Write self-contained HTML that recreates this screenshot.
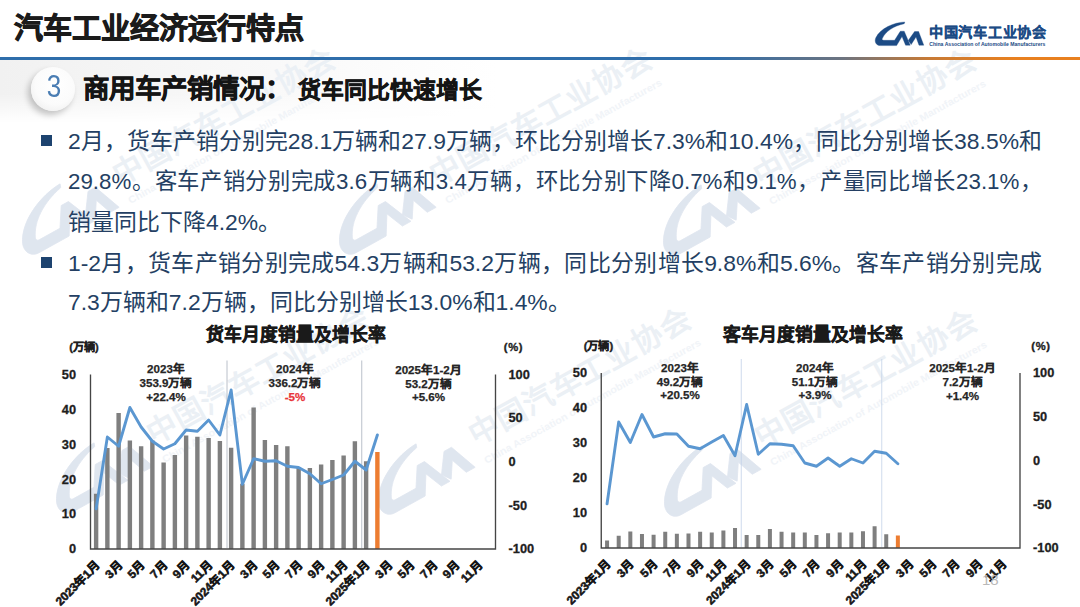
<!DOCTYPE html>
<html lang="zh-CN">
<head>
<meta charset="utf-8">
<title>汽车工业经济运行特点</title>
<style>
html,body{margin:0;padding:0;}
body{width:1080px;height:607px;overflow:hidden;background:#fff;font-family:"Liberation Sans", sans-serif;position:relative;}
.abs{position:absolute;white-space:nowrap;}
#title{left:14px;top:9.5px;font-size:29.05px;font-weight:bold;color:#1b1b1b;line-height:38px;-webkit-text-stroke:0.9px #1b1b1b;}
#hline{left:0;top:56.5px;width:1080px;height:3px;background:linear-gradient(90deg,#2f6eab 0%,#2f6eab 66%,#6d7480 78%,#c77a35 86%,#e8801f 94%,#e8801f 100%);}
#band{left:0;top:59px;width:1080px;height:64px;background:linear-gradient(90deg,#f1f1f1 0%,#f8f8f8 22%,#ffffff 46%);-webkit-mask-image:linear-gradient(180deg,#000 0%,#000 55%,transparent 100%);mask-image:linear-gradient(180deg,#000 0%,#000 55%,transparent 100%);}
#circ{left:31px;top:67px;width:44px;height:44px;border-radius:50%;background:radial-gradient(circle at 55% 40%,#ffffff 0%,#fbfbfb 55%,#e9e9e9 100%);box-shadow:-3px 4px 6px rgba(0,0,0,.22);}
#num3{left:32px;top:64.5px;width:44px;height:44px;line-height:44px;text-align:center;font-size:31px;color:#4a7db3;transform:scaleX(0.84);}
#sec{left:83px;top:70px;line-height:38px;font-weight:bold;color:#151515;font-size:26.5px;-webkit-text-stroke:0.6px #151515;}
#sec span{font-size:22.9px;margin-left:7px;}
.bl{left:68px;font-size:22.9px;color:#243f63;text-spacing-trim:space-all;line-height:40px;height:40px;}
.j{width:974px;text-align:justify;text-align-last:justify;}
.sq{width:11px;height:11px;background:#1d436f;left:40.5px;}
#pg{left:982px;top:571px;font-size:15px;color:#b9b9b9;line-height:17px;}
#logotxt{left:929px;top:22px;font-size:14.6px;font-weight:bold;color:#1f4e8d;line-height:18px;}
#logosub{left:929px;top:41px;font-size:4.6px;font-weight:bold;color:#3a5f93;line-height:6px;letter-spacing:0.05px;}
svg text{font-family:"Liberation Sans", sans-serif;}
.num{font-size:12.8px;font-weight:bold;fill:#1e1e1e;stroke:#1e1e1e;stroke-width:0.3px;}
.unit{font-size:11.2px;font-weight:bold;fill:#1e1e1e;stroke:#1e1e1e;stroke-width:0.35px;}
.ctitle{font-size:17.8px;font-weight:bold;fill:#1a1a1a;stroke:#1a1a1a;stroke-width:0.55px;}
.ann{font-size:11.6px;font-weight:bold;fill:#262626;stroke:#262626;stroke-width:0.25px;}
.red{fill:#e8343a;stroke:#e8343a;}
.xl{font-size:11.8px;font-weight:bold;fill:#161616;stroke:#161616;stroke-width:0.55px;}
</style>
</head>
<body>
<div class="abs" id="band"></div>
<svg class="abs" id="wmsvg" style="left:0;top:0" width="1080" height="607" viewBox="0 0 1080 607">
<defs>
<g id="cam" stroke-width="0.35" stroke-linejoin="round">
<path d="M34.8 7C24 7.3 10 13.5 5.7 23C4.2 27 6.3 30.6 10.4 30.6L26.6 30.6L32 21.6L35.6 30.2L40.2 30.2L34.2 16.2L30.3 16.2L24.6 25.3L13.6 25.3C12.2 25.3 11.8 24.4 12.4 23.3C15.5 16.5 23.5 11 34.2 8.7Z"/>
<path d="M38.2 25.6L44.6 16.5L48.6 16.5L53.8 30.2L49 30.2L46 22L41.2 29.6Z"/>
</g>
<g id="brand">
<use href="#cam"/>
<text x="59" y="21.6" font-size="14.2" font-weight="bold" stroke-width="0.25" textLength="117" lengthAdjust="spacing">中国汽车工业协会</text>
<text x="59.3" y="31.4" font-size="4.7" font-weight="bold" stroke="none" textLength="116" lengthAdjust="spacingAndGlyphs">China Association of Automobile Manufacturers</text>
</g>
<g id="wmk">
<use href="#cam" fill="#dfe6ef" stroke="#dfe6ef"/>
<text x="59" y="21.6" font-size="14.2" font-weight="bold" fill="#ebf0f5" textLength="117" lengthAdjust="spacing">中国汽车工业协会</text>
<text x="59.3" y="31.4" font-size="4.7" font-weight="bold" fill="#f1f4f8" textLength="116" lengthAdjust="spacingAndGlyphs">China Association of Automobile Manufacturers</text>
</g>
</defs>
<use href="#wmk" transform="translate(39 252.5) rotate(-29) scale(2.12) translate(-10.4 -30.5)"/>
<use href="#wmk" transform="translate(356 252.5) rotate(-29) scale(2.12) translate(-10.4 -30.5)"/>
<use href="#wmk" transform="translate(680 253.5) rotate(-29) scale(2.12) translate(-10.4 -30.5)"/>
<use href="#wmk" transform="translate(73 511.5) rotate(-29) scale(2.12) translate(-10.4 -30.5)"/>
<use href="#wmk" transform="translate(395 512.5) rotate(-29) scale(2.12) translate(-10.4 -30.5)"/>
<use href="#wmk" transform="translate(681 514.5) rotate(-29) scale(2.12) translate(-10.4 -30.5)"/>
</svg>
<div class="abs" id="title">汽车工业经济运行特点</div>
<div class="abs" id="hline"></div>
<svg class="abs" style="left:870px;top:15px" width="200" height="40" viewBox="0 0 200 40"><use href="#brand" fill="#1c4b85" stroke="#1c4b85"/></svg>
<div class="abs" id="circ"></div>
<div class="abs" id="num3">3</div>
<div class="abs" id="sec">商用车产销情况：<span>货车同比快速增长</span></div>
<div class="abs sq" style="top:134.5px"></div>
<div class="abs sq" style="top:256.5px"></div>
<div class="abs bl j" style="top:121px">2月，货车产销分别完28.1万辆和27.9万辆，环比分别增长7.3%和10.4%，同比分别增长38.5%和</div>
<div class="abs bl j" style="top:162px;font-size:22.3px">29.8%。客车产销分别完成3.6万辆和3.4万辆，环比分别下降0.7%和9.1%，产量同比增长23.1%，</div>
<div class="abs bl" style="top:202px">销量同比下降4.2%。</div>
<div class="abs bl j" style="top:243px">1-2月，货车产销分别完成54.3万辆和53.2万辆，同比分别增长9.8%和5.6%。客车产销分别完成</div>
<div class="abs bl" style="top:282px">7.3万辆和7.2万辆，同比分别增长13.0%和1.4%。</div>
<svg class="abs" style="left:0;top:0" width="1080" height="607" viewBox="0 0 1080 607">
<line x1="227" y1="360.5" x2="227" y2="548" stroke="#a8b0bd" stroke-width="0.8"/>
<line x1="361.75" y1="360.5" x2="361.75" y2="548" stroke="#a8b0bd" stroke-width="0.8"/>
<rect x="93.92" y="493.75" width="4.4" height="55.25" fill="#7f7f7f"/>
<rect x="105.17" y="448" width="4.4" height="101" fill="#7f7f7f"/>
<rect x="116.42" y="413" width="4.4" height="136" fill="#7f7f7f"/>
<rect x="127.67" y="440.5" width="4.4" height="108.5" fill="#7f7f7f"/>
<rect x="138.93" y="446.25" width="4.4" height="102.75" fill="#7f7f7f"/>
<rect x="150.18" y="440.5" width="4.4" height="108.5" fill="#7f7f7f"/>
<rect x="161.43" y="462.5" width="4.4" height="86.5" fill="#7f7f7f"/>
<rect x="172.68" y="455" width="4.4" height="94" fill="#7f7f7f"/>
<rect x="183.93" y="435.5" width="4.4" height="113.5" fill="#7f7f7f"/>
<rect x="195.18" y="436.75" width="4.4" height="112.25" fill="#7f7f7f"/>
<rect x="206.43" y="438" width="4.4" height="111" fill="#7f7f7f"/>
<rect x="217.68" y="441" width="4.4" height="108" fill="#7f7f7f"/>
<rect x="228.93" y="447.75" width="4.4" height="101.25" fill="#7f7f7f"/>
<rect x="240.18" y="483.75" width="4.4" height="65.25" fill="#7f7f7f"/>
<rect x="251.43" y="407.5" width="4.4" height="141.5" fill="#7f7f7f"/>
<rect x="262.68" y="440" width="4.4" height="109" fill="#7f7f7f"/>
<rect x="273.93" y="445" width="4.4" height="104" fill="#7f7f7f"/>
<rect x="285.18" y="446.25" width="4.4" height="102.75" fill="#7f7f7f"/>
<rect x="296.43" y="467" width="4.4" height="82" fill="#7f7f7f"/>
<rect x="307.68" y="468" width="4.4" height="81" fill="#7f7f7f"/>
<rect x="318.93" y="464.5" width="4.4" height="84.5" fill="#7f7f7f"/>
<rect x="330.18" y="460" width="4.4" height="89" fill="#7f7f7f"/>
<rect x="341.43" y="455.5" width="4.4" height="93.5" fill="#7f7f7f"/>
<rect x="352.68" y="441.25" width="4.4" height="107.75" fill="#7f7f7f"/>
<rect x="363.93" y="461.25" width="4.4" height="87.75" fill="#7f7f7f"/>
<rect x="375.18" y="452" width="4.4" height="97" fill="#ed7d31"/>
<path d="M90.5 374.5V549H495.5V374.5" fill="none" stroke="#454545" stroke-width="1.35"/>
<polyline points="96.12,508.75 107.38,437 118.62,446.25 129.88,407.5 141.12,427 152.38,441.25 163.62,449 174.88,443.75 186.12,430 197.38,431.25 208.62,420 219.88,435 231.12,390 242.38,484.25 253.62,458.75 264.88,461.25 276.12,460.75 287.38,466.25 298.62,467.5 309.88,473.75 321.12,483.75 332.38,479.5 343.62,475 354.88,461.25 366.12,470 377.38,435" fill="none" stroke="#5b97d1" stroke-width="2.9" stroke-linejoin="round" stroke-linecap="round"/>
<text x="76" y="378.8" text-anchor="end" class="num">50</text>
<text x="76" y="413.7" text-anchor="end" class="num">40</text>
<text x="76" y="448.6" text-anchor="end" class="num">30</text>
<text x="76" y="483.5" text-anchor="end" class="num">20</text>
<text x="76" y="518.4" text-anchor="end" class="num">10</text>
<text x="76" y="553.3" text-anchor="end" class="num">0</text>
<text x="508.5" y="378.8" class="num">100</text>
<text x="508.5" y="422.43" class="num">50</text>
<text x="508.5" y="466.05" class="num">0</text>
<text x="508.5" y="509.68" class="num">-50</text>
<text x="508.5" y="553.3" class="num">-100</text>
<text x="84" y="350.6" text-anchor="middle" class="unit">(万辆)</text>
<text x="513.5" y="350.6" text-anchor="middle" class="unit" letter-spacing="0.7">(%)</text>
<text x="296" y="341.4" text-anchor="middle" class="ctitle">货车月度销量及增长率</text>
<text x="166" y="373.3" text-anchor="middle" class="ann">2023年</text>
<text x="166" y="387" text-anchor="middle" class="ann">353.9万辆</text>
<text x="166" y="400.7" text-anchor="middle" class="ann">+22.4%</text>
<text x="295" y="373.3" text-anchor="middle" class="ann">2024年</text>
<text x="295" y="387" text-anchor="middle" class="ann">336.2万辆</text>
<text x="295" y="400.7" text-anchor="middle" class="ann red">-5%</text>
<text x="428.5" y="373.8" text-anchor="middle" class="ann">2025年1-2月</text>
<text x="428.5" y="387.5" text-anchor="middle" class="ann">53.2万辆</text>
<text x="428.5" y="401.2" text-anchor="middle" class="ann">+5.6%</text>
<text transform="translate(100.62 566) rotate(-45)" text-anchor="end" class="xl">2023年1月</text>
<text transform="translate(123.12 566) rotate(-45)" text-anchor="end" class="xl">3月</text>
<text transform="translate(145.62 566) rotate(-45)" text-anchor="end" class="xl">5月</text>
<text transform="translate(168.12 566) rotate(-45)" text-anchor="end" class="xl">7月</text>
<text transform="translate(190.62 566) rotate(-45)" text-anchor="end" class="xl">9月</text>
<text transform="translate(213.12 566) rotate(-45)" text-anchor="end" class="xl">11月</text>
<text transform="translate(235.62 566) rotate(-45)" text-anchor="end" class="xl">2024年1月</text>
<text transform="translate(258.12 566) rotate(-45)" text-anchor="end" class="xl">3月</text>
<text transform="translate(280.62 566) rotate(-45)" text-anchor="end" class="xl">5月</text>
<text transform="translate(303.12 566) rotate(-45)" text-anchor="end" class="xl">7月</text>
<text transform="translate(325.62 566) rotate(-45)" text-anchor="end" class="xl">9月</text>
<text transform="translate(348.12 566) rotate(-45)" text-anchor="end" class="xl">11月</text>
<text transform="translate(370.62 566) rotate(-45)" text-anchor="end" class="xl">2025年1月</text>
<text transform="translate(393.12 566) rotate(-45)" text-anchor="end" class="xl">3月</text>
<text transform="translate(415.62 566) rotate(-45)" text-anchor="end" class="xl">5月</text>
<text transform="translate(438.12 566) rotate(-45)" text-anchor="end" class="xl">7月</text>
<text transform="translate(460.62 566) rotate(-45)" text-anchor="end" class="xl">9月</text>
<text transform="translate(483.12 566) rotate(-45)" text-anchor="end" class="xl">11月</text>
<line x1="741.25" y1="359" x2="741.25" y2="547" stroke="#c3d2e8" stroke-width="0.8"/>
<line x1="881.75" y1="359" x2="881.75" y2="547" stroke="#c3d2e8" stroke-width="0.8"/>
<rect x="605.07" y="540.5" width="4" height="7.5" fill="#7f7f7f"/>
<rect x="616.7" y="535.75" width="4" height="12.25" fill="#7f7f7f"/>
<rect x="628.33" y="531.5" width="4" height="16.5" fill="#7f7f7f"/>
<rect x="639.96" y="534" width="4" height="14" fill="#7f7f7f"/>
<rect x="651.59" y="534.75" width="4" height="13.25" fill="#7f7f7f"/>
<rect x="663.23" y="531.75" width="4" height="16.25" fill="#7f7f7f"/>
<rect x="674.86" y="533.75" width="4" height="14.25" fill="#7f7f7f"/>
<rect x="686.49" y="533.5" width="4" height="14.5" fill="#7f7f7f"/>
<rect x="698.12" y="531.75" width="4" height="16.25" fill="#7f7f7f"/>
<rect x="709.75" y="532.5" width="4" height="15.5" fill="#7f7f7f"/>
<rect x="721.39" y="530.5" width="4" height="17.5" fill="#7f7f7f"/>
<rect x="733.02" y="528" width="4" height="20" fill="#7f7f7f"/>
<rect x="744.65" y="535" width="4" height="13" fill="#7f7f7f"/>
<rect x="756.28" y="535" width="4" height="13" fill="#7f7f7f"/>
<rect x="767.91" y="529" width="4" height="19" fill="#7f7f7f"/>
<rect x="779.55" y="531.75" width="4" height="16.25" fill="#7f7f7f"/>
<rect x="791.18" y="532.5" width="4" height="15.5" fill="#7f7f7f"/>
<rect x="802.81" y="532.5" width="4" height="15.5" fill="#7f7f7f"/>
<rect x="814.44" y="535" width="4" height="13" fill="#7f7f7f"/>
<rect x="826.07" y="533.25" width="4" height="14.75" fill="#7f7f7f"/>
<rect x="837.7" y="532.5" width="4" height="15.5" fill="#7f7f7f"/>
<rect x="849.34" y="532.5" width="4" height="15.5" fill="#7f7f7f"/>
<rect x="860.97" y="531.25" width="4" height="16.75" fill="#7f7f7f"/>
<rect x="872.6" y="526.25" width="4" height="21.75" fill="#7f7f7f"/>
<rect x="884.23" y="534.25" width="4" height="13.75" fill="#7f7f7f"/>
<rect x="895.86" y="535.5" width="4" height="12.5" fill="#ed7d31"/>
<path d="M601.25 373V548H1020V373" fill="none" stroke="#454545" stroke-width="1.35"/>
<polyline points="607.07,503.75 618.7,422 630.33,442.5 641.96,414.5 653.59,437 665.23,433.75 676.86,434 688.49,446.25 700.12,448.75 711.75,442 723.39,435.5 735.02,455.75 746.65,404.5 758.28,454.25 769.91,443.75 781.55,444.25 793.18,445.75 804.81,463 816.44,466.25 828.07,458 839.7,466.25 851.34,458.75 862.97,463 874.6,451.25 886.23,453.25 897.86,463.75" fill="none" stroke="#5b97d1" stroke-width="2.9" stroke-linejoin="round" stroke-linecap="round"/>
<text x="587" y="377.3" text-anchor="end" class="num">50</text>
<text x="587" y="412.3" text-anchor="end" class="num">40</text>
<text x="587" y="447.3" text-anchor="end" class="num">30</text>
<text x="587" y="482.3" text-anchor="end" class="num">20</text>
<text x="587" y="517.3" text-anchor="end" class="num">10</text>
<text x="587" y="552.3" text-anchor="end" class="num">0</text>
<text x="1033" y="377.3" class="num">100</text>
<text x="1033" y="421.05" class="num">50</text>
<text x="1033" y="464.8" class="num">0</text>
<text x="1033" y="508.55" class="num">-50</text>
<text x="1033" y="552.3" class="num">-100</text>
<text x="598.5" y="349.6" text-anchor="middle" class="unit">(万辆)</text>
<text x="1041" y="349.6" text-anchor="middle" class="unit" letter-spacing="0.7">(%)</text>
<text x="812.5" y="340.9" text-anchor="middle" class="ctitle">客车月度销量及增长率</text>
<text x="680" y="372" text-anchor="middle" class="ann">2023年</text>
<text x="680" y="385.7" text-anchor="middle" class="ann">49.2万辆</text>
<text x="680" y="399.4" text-anchor="middle" class="ann">+20.5%</text>
<text x="815" y="372" text-anchor="middle" class="ann">2024年</text>
<text x="815" y="385.7" text-anchor="middle" class="ann">51.1万辆</text>
<text x="815" y="399.4" text-anchor="middle" class="ann">+3.9%</text>
<text x="962.5" y="372.2" text-anchor="middle" class="ann">2025年1-2月</text>
<text x="962.5" y="385.9" text-anchor="middle" class="ann">7.2万辆</text>
<text x="962.5" y="399.6" text-anchor="middle" class="ann">+1.4%</text>
<text transform="translate(611.57 565) rotate(-45)" text-anchor="end" class="xl">2023年1月</text>
<text transform="translate(634.83 565) rotate(-45)" text-anchor="end" class="xl">3月</text>
<text transform="translate(658.09 565) rotate(-45)" text-anchor="end" class="xl">5月</text>
<text transform="translate(681.36 565) rotate(-45)" text-anchor="end" class="xl">7月</text>
<text transform="translate(704.62 565) rotate(-45)" text-anchor="end" class="xl">9月</text>
<text transform="translate(727.89 565) rotate(-45)" text-anchor="end" class="xl">11月</text>
<text transform="translate(751.15 565) rotate(-45)" text-anchor="end" class="xl">2024年1月</text>
<text transform="translate(774.41 565) rotate(-45)" text-anchor="end" class="xl">3月</text>
<text transform="translate(797.68 565) rotate(-45)" text-anchor="end" class="xl">5月</text>
<text transform="translate(820.94 565) rotate(-45)" text-anchor="end" class="xl">7月</text>
<text transform="translate(844.2 565) rotate(-45)" text-anchor="end" class="xl">9月</text>
<text transform="translate(867.47 565) rotate(-45)" text-anchor="end" class="xl">11月</text>
<text transform="translate(890.73 565) rotate(-45)" text-anchor="end" class="xl">2025年1月</text>
<text transform="translate(914 565) rotate(-45)" text-anchor="end" class="xl">3月</text>
<text transform="translate(937.26 565) rotate(-45)" text-anchor="end" class="xl">5月</text>
<text transform="translate(960.52 565) rotate(-45)" text-anchor="end" class="xl">7月</text>
<text transform="translate(983.79 565) rotate(-45)" text-anchor="end" class="xl">9月</text>
<text transform="translate(1007.05 565) rotate(-45)" text-anchor="end" class="xl">11月</text>
</svg>
<div class="abs" id="pg">18</div>
</body>
</html>
